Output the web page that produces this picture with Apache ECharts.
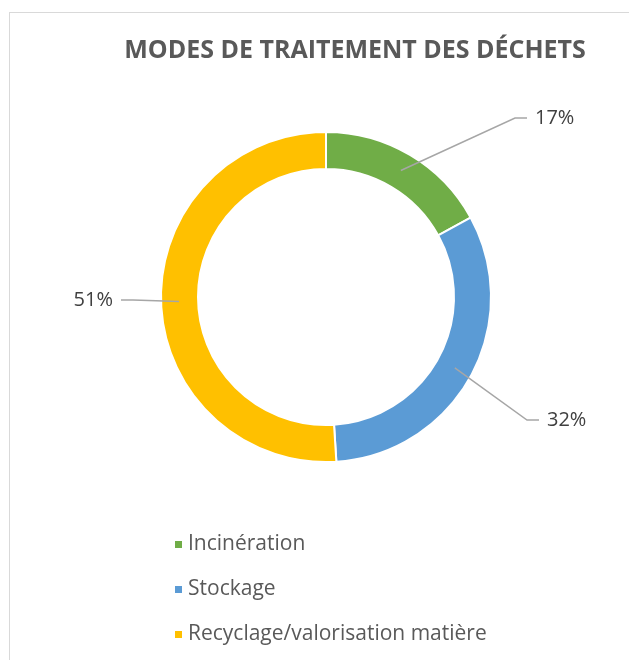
<!DOCTYPE html>
<html>
<head>
<meta charset="utf-8">
<script src="https://cdn.jsdelivr.net/npm/echarts@6/dist/echarts.min.js"></script>
<style>
  html, body { margin: 0; padding: 0; background: #fff; }
  #main { width: 629px; height: 660px; }
  /* cadre gris clair du graphique (haut et gauche seulement) */
  #frame {
    position: absolute; left: 9px; top: 12px; right: 0; bottom: 0;
    border-top: 1px solid #d9d9d9; border-left: 1px solid #d9d9d9;
    pointer-events: none;
  }
</style>
</head>
<body>
<div id="main"></div>
<div id="frame"></div>
<script>
// données
var categories = ['Incinération', 'Stockage', 'Recyclage/valorisation matière'];
var values = [17, 32, 51];
var colors = ['#70AD47', '#5B9BD5', '#FFC000'];

// position des étiquettes : [x, y, côté]
var labelPos = [[535, 118, 'left'], [547, 420, 'left'], [113, 300, 'right']];

var chart = echarts.init(document.getElementById('main'));

var ringData = categories.map(function (name, i) {
  return { name: name, value: values[i], itemStyle: { color: colors[i] } };
});

chart.setOption({
  backgroundColor: '#fff',
  animation: false,
  title: {
    text: 'MODES DE TRAITEMENT DES DÉCHETS',
    left: 350,
    top: 33,
    textAlign: 'center',
    textStyle: {
      fontFamily: 'Open Sans',
      fontWeight: 'bold',
      fontSize: 25,
      color: '#595959'
    }
  },
  legend: {
    orient: 'vertical',
    left: 168,
    top: 529,
    icon: 'rect',
    itemWidth: 9,
    itemHeight: 9,
    itemGap: 24,
    data: categories,
    textStyle: {
      fontFamily: 'Open Sans',
      fontSize: 21,
      color: '#595959'
    }
  },
  series: [{
    // anneau visible
    name: 'anneau',
    type: 'pie',
    center: [326, 297],
    radius: [128, 165],
    startAngle: 90,
    silent: true,
    label: { show: false },
    labelLine: { show: false },
    itemStyle: { borderColor: '#fff', borderWidth: 2 },
    data: ringData
  }, {
    // série transparente qui porte les étiquettes (trait partant du milieu de l'anneau)
    name: 'etiquettes',
    type: 'pie',
    z: 5,
    center: [326, 297],
    radius: [0, 147],
    startAngle: 90,
    silent: true,
    itemStyle: { color: 'rgba(0,0,0,0)' },
    label: {
      show: true,
      formatter: '{c}%',
      fontFamily: 'Open Sans',
      fontSize: 20,
      color: '#404040'
    },
    labelLine: {
      show: true,
      length: 20,
      length2: 10,
      lineStyle: { color: '#A6A6A6', width: 1.5 }
    },
    labelLayout: function (p) {
      var pos = labelPos[p.dataIndex];
      var start = p.labelLinePoints ? p.labelLinePoints[0] : [pos[0], pos[1]];
      var dir = pos[2] === 'left' ? -1 : 1;
      var end = [pos[0] + dir * 8, pos[1]];
      var elbow = [pos[0] + dir * 20, pos[1]];
      return {
        x: pos[0],
        y: pos[1],
        align: pos[2],
        verticalAlign: 'middle',
        labelLinePoints: [start, elbow, end]
      };
    },
    data: categories.map(function (name, i) {
      return { name: name, value: values[i] };
    })
  }]
});
</script>
</body>
</html>
